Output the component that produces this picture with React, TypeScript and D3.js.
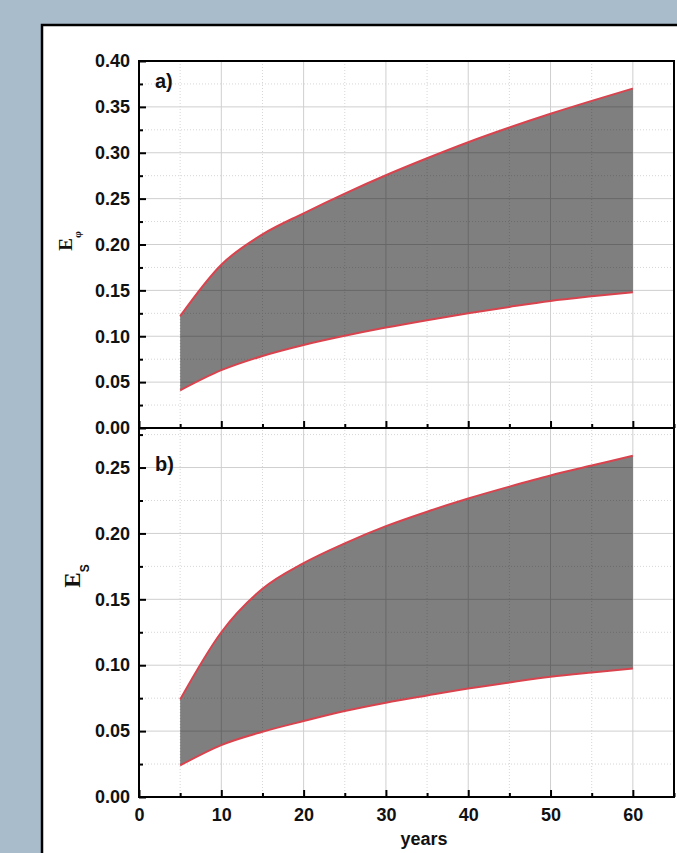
import React, { useRef, useEffect } from 'react';
import * as d3 from 'd3';

// data
const years = [5, 10, 15, 20, 25, 30, 35, 40, 45, 50, 55, 60];
const ePhiUpper = [0.122, 0.178, 0.211, 0.234, 0.2555, 0.2755, 0.294, 0.3115, 0.3275, 0.3425, 0.3565, 0.370];
const ePhiLower = [0.041, 0.063, 0.0785, 0.0905, 0.1005, 0.1095, 0.1175, 0.125, 0.132, 0.1385, 0.1435, 0.148];
const eSUpper = [0.074, 0.125, 0.158, 0.1775, 0.1925, 0.2055, 0.2165, 0.2265, 0.2355, 0.244, 0.2515, 0.259];
const eSLower = [0.024, 0.0394, 0.0495, 0.0576, 0.0652, 0.0715, 0.077, 0.0823, 0.0869, 0.0912, 0.0945, 0.0975];

const xTicks = [0, 10, 20, 30, 40, 50, 60];
const xMinor = [5, 15, 25, 35, 45, 55, 65];
const phiTicks = [0, 0.05, 0.1, 0.15, 0.2, 0.25, 0.3, 0.35, 0.4];
const sTicks = [0, 0.05, 0.1, 0.15, 0.2, 0.25];

const W = 677, H = 853;
const SANS = '"Liberation Sans", Arial, sans-serif';
const SERIF = '"Liberation Serif", "Times New Roman", serif';

const App = () => {
  const svgRef = useRef<SVGSVGElement>(null);

  useEffect(() => {
    const svg = d3.select(svgRef.current);
    svg.selectAll('*').remove();

    svg.append('rect').attr('width', W).attr('height', H).attr('fill', '#a8bccc');
    svg.append('rect')
      .attr('x', 42).attr('y', 25).attr('width', 720).attr('height', 900)
      .attr('fill', '#fff').attr('stroke', '#000').attr('stroke-width', 2.5);

    const x = d3.scaleLinear().domain([0, 65]).range([139, 674]);

    const panels = [
      { y: d3.scaleLinear().domain([0, 0.4]).range([428, 61]), upper: ePhiUpper, lower: ePhiLower,
        ticks: phiTicks, tag: 'a)', tagY: 88, sub: '\u03c6', labX: 72, labY: 241, labSize: 19, subSize: 11, xLabels: false },
      { y: d3.scaleLinear().domain([0, 0.28]).range([797, 428]), upper: eSUpper, lower: eSLower,
        ticks: sTicks, tag: 'b)', tagY: 471, sub: 'S', labX: 80, labY: 576, labSize: 23, subSize: 12, xLabels: true },
    ];

    panels.forEach(p => {
      const g = svg.append('g');
      const [y0, y1] = p.y.range();
      const top = p.y.domain()[1];

      // minor grid (dotted)
      const yMinor = d3.range(0.025, top, 0.05);
      g.selectAll('.hmin').data(yMinor).join('line')
        .attr('x1', x(0)).attr('x2', x(65)).attr('y1', d => p.y(d)).attr('y2', d => p.y(d))
        .attr('stroke', '#d6d6d6').attr('stroke-dasharray', '1,2');
      g.selectAll('.vmin').data(xMinor.slice(0, -1)).join('line')
        .attr('x1', d => x(d)).attr('x2', d => x(d)).attr('y1', y0).attr('y2', y1)
        .attr('stroke', '#d6d6d6').attr('stroke-dasharray', '1,2');
      // major grid
      g.selectAll('.hmaj').data(p.ticks.slice(1)).join('line')
        .attr('x1', x(0)).attr('x2', x(65)).attr('y1', d => p.y(d)).attr('y2', d => p.y(d))
        .attr('stroke', '#cfcfcf');
      g.selectAll('.vmaj').data(xTicks.slice(1)).join('line')
        .attr('x1', d => x(d)).attr('x2', d => x(d)).attr('y1', y0).attr('y2', y1)
        .attr('stroke', '#cfcfcf');

      // band between the curves
      const rows = years.map((yr, i) => ({ yr, lo: p.lower[i], hi: p.upper[i] }));
      const area = d3.area<{ yr: number; lo: number; hi: number }>()
        .x(d => x(d.yr)).y0(d => p.y(d.lo)).y1(d => p.y(d.hi))
        .curve(d3.curveMonotoneX);
      g.append('path').datum(rows).attr('d', area).attr('fill', '#000').attr('fill-opacity', 0.5);

      const line = d3.line<number>().x((_, i) => x(years[i])).y(d => p.y(d)).curve(d3.curveMonotoneX);
      [p.upper, p.lower].forEach(s => {
        g.append('path').datum(s).attr('d', line)
          .attr('fill', 'none').attr('stroke', '#d9434e').attr('stroke-width', 2);
      });

      // left axis, ticks inward
      const yAx = g.append('g').attr('transform', `translate(${x(0)},0)`)
        .call(d3.axisLeft(p.y).tickValues(p.ticks).tickSize(-7).tickPadding(9).tickFormat(d3.format('.2f')));
      yAx.selectAll('text').attr('font-family', SANS).attr('font-weight', 'bold').attr('font-size', 18).attr('fill', '#111');
      const yAxMin = g.append('g').attr('transform', `translate(${x(0)},0)`)
        .call(d3.axisLeft(p.y).tickValues(yMinor).tickSize(-4).tickFormat(() => ''));
      [yAx, yAxMin].forEach(a => {
        a.select('.domain').remove();
        a.selectAll('line').attr('stroke', '#000').attr('stroke-width', 2);
      });

      // bottom axis, ticks upward
      const xAx = g.append('g').attr('transform', `translate(0,${y0})`)
        .call(d3.axisBottom(x).tickValues(xTicks).tickSize(-7).tickPadding(11)
          .tickFormat(p.xLabels ? d3.format('d') : () => ''));
      xAx.selectAll('text').attr('font-family', SANS).attr('font-weight', 'bold').attr('font-size', 18).attr('fill', '#111');
      const xAxMin = g.append('g').attr('transform', `translate(0,${y0})`)
        .call(d3.axisBottom(x).tickValues(xMinor).tickSize(-4).tickFormat(() => ''));
      [xAx, xAxMin].forEach(a => {
        a.select('.domain').remove();
        a.selectAll('line').attr('stroke', '#000').attr('stroke-width', 2);
      });

      // frame
      g.append('rect').attr('x', x(0)).attr('y', y1).attr('width', x(65) - x(0)).attr('height', y0 - y1)
        .attr('fill', 'none').attr('stroke', '#000').attr('stroke-width', 2);

      g.append('text').attr('x', 155).attr('y', p.tagY).text(p.tag)
        .attr('font-family', SANS).attr('font-weight', 'bold').attr('font-size', 20).attr('fill', '#111');

      const lab = g.append('text')
        .attr('transform', `translate(${p.labX},${p.labY}) rotate(-90)`)
        .attr('text-anchor', 'middle').attr('font-family', SERIF).attr('font-weight', 'bold')
        .attr('font-size', p.labSize).attr('fill', '#111');
      lab.append('tspan').text('E');
      lab.append('tspan').attr('dy', 9).attr('font-size', p.subSize)
        .attr('font-family', p.sub === 'S' ? SANS : SERIF).text(p.sub);
    });

    svg.append('text').attr('x', 424).attr('y', 845).attr('text-anchor', 'middle').text('years')
      .attr('font-family', SANS).attr('font-weight', 'bold').attr('font-size', 18).attr('fill', '#111');
  }, []);

  return <svg ref={svgRef} width={W} height={H} style={{ position: 'absolute', left: 0, top: 0 }} />;
};

export default App;
